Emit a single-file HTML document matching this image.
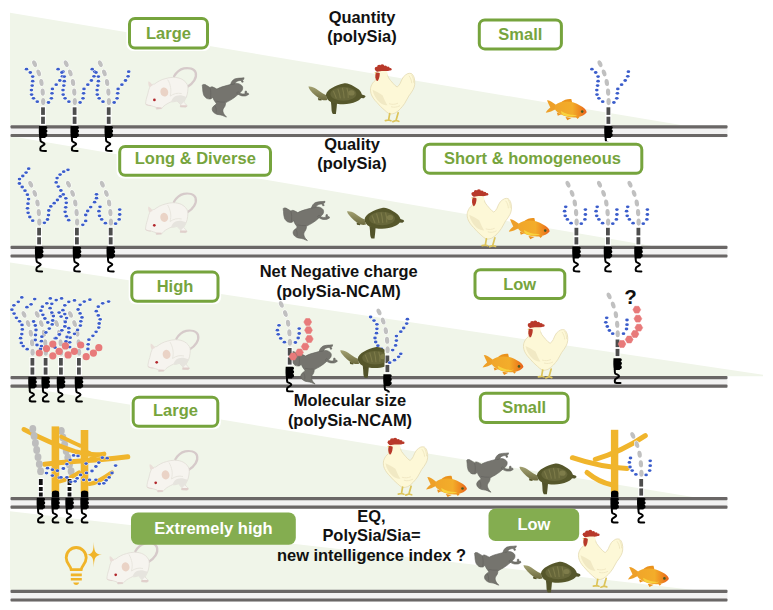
<!DOCTYPE html><html><head><meta charset="utf-8"><title>polySia</title><style>
html,body{margin:0;padding:0;background:#fff;width:773px;height:610px;overflow:hidden}
svg{display:block}
.b{font-family:"Liberation Sans",sans-serif;font-weight:bold;font-size:16.5px}
.t{font-family:"Liberation Sans",sans-serif;font-weight:bold;font-size:16.45px;fill:#111}
</style></head><body>
<svg width="773" height="610" viewBox="0 0 773 610"><defs>
<ellipse id="dot" cx="0" cy="0" rx="1.8" ry="1.4" fill="#3b5dcb" stroke="#fff" stroke-width="0.9" paint-order="stroke"/>
<g id="blobsq">
  <path d="M-4,0.8 L2.8,0.8 C4.8,1 4.8,3.6 3,4 C4.9,4.6 4.9,7.3 3,7.7 C4.9,8.3 4.8,11.2 2.8,11.6 L2.2,12.6 L-3.6,12.6 C-4.3,9 -4.3,4.5 -4,0.8 Z" fill="#000"/>
  <path d="M-2.7,12 C-2.8,14 -2.8,15 -2.3,15.9 C-1.2,16.9 1.6,17.6 1.6,18.7 C1.6,19.7 -1.6,20.6 -2.3,21.8 C-2.8,22.8 -2.8,24.2 -2.5,25 C-1,25.7 1,25.6 3,25.6" fill="none" stroke="#000" stroke-width="2" stroke-linejoin="round" stroke-linecap="round"/>
</g>
<polygon id="hex" points="3.90,0.00 1.95,3.38 -1.95,3.38 -3.90,0.00 -1.95,-3.38 1.95,-3.38" fill="#e87a7a" stroke="#e87a7a" stroke-width="0.6" stroke-linejoin="round"/>
<g id="stalk">
  <rect x="-2.9" y="-19" width="5.8" height="19" fill="#fff"/>
  <rect x="-1.9" y="-18" width="3.8" height="7.6" fill="#4d4d4d"/>
  <rect x="-1.9" y="-8.6" width="3.8" height="7.2" fill="#4d4d4d"/>
  <use href="#blobsq"/>
</g>
<g id="beads" fill="#c0c0c0" stroke="#fff" stroke-width="1" paint-order="stroke">
  <ellipse cx="-8.4" cy="-61.6" rx="2.15" ry="3.55" transform="rotate(-24 -8.4 -61.6)"/>
  <ellipse cx="-4.3" cy="-52.4" rx="2.15" ry="3.55" transform="rotate(-18 -4.3 -52.4)"/>
  <ellipse cx="-1.6" cy="-42.8" rx="2.15" ry="3.55" transform="rotate(-9 -1.6 -42.8)"/>
  <ellipse cx="-0.3" cy="-33.2" rx="2.15" ry="3.55" transform="rotate(-4 -0.3 -33.2)"/>
  <ellipse cx="0.2" cy="-23.7" rx="2.15" ry="3.55"/>
</g>
<clipPath id="clipT"><rect x="300" y="330" width="84.5" height="60"/></clipPath>
<g id="stalkb">
  <path d="M-3.6,-4 C-3.6,-6 -2,-6.6 0,-6.6 C2,-6.6 3.8,-6 3.8,-4 L3.8,0.5 L-3.6,0.5 Z" fill="#000"/>
  <use href="#blobsq"/>
</g>
<g id="stalkk">
  <rect x="-2.9" y="-19" width="5.8" height="19" fill="#fff"/>
  <rect x="-1.9" y="-18" width="3.8" height="6" fill="#111"/>
  <rect x="-1.9" y="-10" width="3.8" height="4" fill="#111"/>
  <rect x="-1.9" y="-4.5" width="3.8" height="4" fill="#111"/>
  <use href="#blobsq"/>
</g>
<g id="ncam"><use href="#stalk"/><use href="#beads"/></g>

<g id="mouse">
  <path d="M49.5,29.5 C55.5,26 59.5,20 58,15 C56.5,11 51,10 46.2,10.8 C42,11.8 38.5,15 36.4,18.7" fill="none" stroke="#d6caca" stroke-width="2.3" stroke-linecap="round"/>
  <path d="M7.9,46.2 C8,43.5 8.8,40 9.8,37.4 C10.5,34 11.2,31 12.5,28.5 C14,27 15.5,26.5 16.7,26.5 C20,24 23.5,22 27.5,21.1 C30,20.3 33,19.7 35.4,19.7 C39,19.7 42,20.5 44.2,21.6 C47.5,23.5 49.5,26 50.1,28.5 C50.6,31 50,36 48.7,39.3 C48,41.5 46.5,43 46,44.5 C47.5,46 49,47 49.5,48.5 L48,49.6 L42.5,49.3 L43.2,47.4 C42,46 41,44.5 39.3,43.3 C37,44.2 35,44.4 33.4,44.2 C32,45 30.5,45.5 29.5,46.2 C27,47.5 25,49.5 24,51 L18.7,51.5 L18.2,49.6 C16.5,49 15,48.6 13.8,48.2 C12,48.2 10,47.8 8.8,47.2 C8.3,47 8,46.6 7.9,46.2 Z" fill="#f6f4ef" stroke="#dedad2" stroke-width="0.7"/>
  <path d="M33.4,44.2 C35,39 40,35.5 48.7,39.3 C48,41.5 46.5,43 46,44.5 L43.2,47.4 C42,46 41,44.5 39.3,43.3 C37,44.2 35,44.4 33.4,44.2 Z" fill="#e6e4de"/>
  <path d="M30,22 C33,27 34,33 32.5,38.5 C36,36 40,35 44,36" fill="none" stroke="#e7e4dd" stroke-width="0.9"/>
  <path d="M11.5,29.3 C10.6,27.2 10.3,25.2 10.8,23.6 C12.5,24.5 14,26 15,28 Z" fill="#eaded8"/>
  <ellipse cx="26.6" cy="34.4" rx="3.9" ry="4.6" transform="rotate(-15 26.6 34.4)" fill="#ead3c6"/>
  <circle cx="16.7" cy="42.3" r="1.35" fill="#b2262c"/>
  <path d="M42.5,47.6 L48.8,47.6 L49.5,48.8 L48,49.7 L42.5,49.4 Z" fill="#e0cfcb"/>
  <path d="M18.5,49.4 L24,49.8 L23.8,51.2 L18.7,51.6 Z" fill="#e0cfcb"/>
  <path d="M8,46.5 C9.5,47.5 11.5,48 13.5,48" fill="none" stroke="#e2d4d0" stroke-width="0.8"/>
</g>

<g id="frog" fill="#75746e" stroke="#62615c" stroke-width="0.6">
  <path d="M5.2,13.6 C5.5,12.8 6.8,12.8 8,13.1 C8.5,13.3 8.9,13.5 9.2,13.8 C10.8,14.6 12,15.5 12.9,16.1 C13.8,15.3 15,15.2 15.8,15.6 C17.5,16.2 18.5,17 19.8,17.6 C22,16.3 25,15.2 27.5,14.6 C30,14 32.5,13.2 34.9,12.6 C36,12.2 37.2,11.8 38.6,11.9 C41,12 42.5,12.3 43.5,13.2 C45,14 45.6,15 45.6,16.5 C45.6,18.5 44.5,20 43.2,20.8 C42.2,22 41.3,22.6 40.6,23.2 C38.8,25 36.3,26.8 33.4,28.6 C31.3,29.8 29.6,30.6 28.5,31.3 C28.6,32.5 28.3,33.8 27.7,35 C26.8,36.5 25.8,37.5 25.8,39 C25.8,40.5 26.5,42 27.5,43.5 C28.3,44.3 29,45 29.4,45.6 C28,45.2 26.8,44.6 25.7,44.1 C24.5,43.6 23,43.3 22,43.2 C20.5,43 19.3,42.8 18.4,42.2 C17,41.5 16,40.5 15.6,39.5 C15,38.5 15,37.5 15.2,36.7 C15.6,35.5 16.5,34.5 17.4,34 C18.2,33.3 19,32.7 19.3,32.1 C18.7,31 18,30 17.4,29.4 C16.5,28 16,26.8 15.6,25.7 C14.8,26.8 14,27.4 12.9,27.5 C11.5,27.6 10,27.3 9.2,26.6 C7.8,25.5 6.8,24.3 6.4,23 C5.8,21 5.5,18.5 5.5,16.5 C5.4,15.3 5.1,14.3 5.2,13.6 Z"/>
  <path d="M33.5,13 C34,10.5 35.5,8.5 37.5,7.5 C39.5,6.8 42,6.6 44,6.6 L47,6.3 L46.5,8 L45.2,8.3 L46.2,10.5 L44.8,10.8 L44,8.9 C42.5,9 41,9.2 40,9.8 C38.8,10.5 38,11.5 37.5,12.5 Z"/>
  <path d="M39.5,21.5 C41,23 43,24 45,24.4 C46.5,24.6 48,24.5 49,24.3 L51.6,22.9 L51,21.5 L49.8,22 L49.3,19.6 L48,19.7 L47.8,22.4 C46.5,22.6 45,22.5 43.5,22 C42.5,21.5 41.6,20.8 41,20.2 Z"/>
  <path d="M13,16.5 C13.8,19.5 14,23 13.2,27 M19.3,29.8 C22,30.5 25,30.8 28,30.6 M17.5,34 C19,35.5 19.5,38 19,41" fill="none" stroke="#64635e" stroke-width="0.7"/>
</g>

<linearGradient id="tg" x1="0" y1="0" x2="0" y2="1"><stop offset="0" stop-color="#a3a172"/><stop offset="1" stop-color="#6c6a3e"/></linearGradient>
<g id="turtle">
  <path d="M14.5,22.5 L18.5,23.5 L18,25.2 L15,24.8 Z" fill="#55552a"/>
  <path d="M5,11.2 C6.5,11 8,11.2 9.5,11.8 C12,12.8 14,14.2 16.5,16 C18.5,17.5 20.5,18.5 22.5,19.5 L24,24.5 C22,25 20.5,25 19,24.5 C16.5,23.5 14,22 12,20.2 C10,18.5 8.2,16.5 6.8,14.8 C6,13.8 5.3,12.5 5,11.2 Z" fill="url(#tg)"/>
  <path d="M27.5,26 C28,29 28,32 28.2,35 C28.4,36.5 28.8,37.8 29.5,38.5 L32.5,38.5 C32.8,36.5 33,34 33.3,31.5 C33.5,29.5 33.6,28 33.6,27.5 Z" fill="#52532a"/>
  <path d="M57,18.5 L61.5,20 L62.2,21.2 L60.5,22.8 L57,22.5 Z" fill="#52532a"/>
  <path d="M22.5,19.5 C23,16.5 25.5,14 28.5,12.5 C32,10.5 36,8.8 40,8 C42,7.6 44,7.8 45.5,8.5 C49,9.8 52.5,11.8 55.5,14.2 C57.5,16 58.5,18 58.5,20.5 C58,23 56,24.8 53,26 C49,27.8 44.5,28.8 40,28.8 C35.5,28.8 31,28 27.5,26.5 C24.5,25 22.8,22.5 22.5,19.5 Z" fill="#56572b"/>
  <ellipse cx="40" cy="18.5" rx="13" ry="6.8" fill="#67673a"/>
  <path d="M30,15.5 C31,18 32,20.5 33,23 M34.5,13.5 C35.5,16.5 36.5,19.5 37,23 M39,12.5 C40,15.5 40.5,19 40.8,23 M43.5,12.5 C44.5,15.5 45,19 44.8,22.5" fill="none" stroke="#7d7b49" stroke-width="1.1"/>
  <ellipse cx="48" cy="17.5" rx="3.2" ry="2.6" fill="#7e7c4a"/>
</g>

<g id="chicken">
  <path d="M12.8,21.3 C11.5,22.3 10.4,23.3 9.6,24.5 C8.4,26.5 7.7,28.2 7.5,29.9 C7.3,32 7.7,34.2 8.5,36.2 C9.8,39 11.6,41.5 13.9,43.7 C16.2,46.5 18.6,49 21.3,51.2 C23,52.8 24.8,54.4 26.7,55.4 C28.5,55.4 30.3,55 32,54.4 C34,53.2 35.8,51.8 37.3,50.1 C38.9,48.5 40.3,46.6 41.6,44.8 C43.1,42.3 44.5,39.8 45.8,37.3 C47.3,35.3 48.9,33.2 50.1,30.9 C51,29.2 51.6,27.4 51.7,25.6 C51.9,23.4 51.7,21.2 51.2,19.2 C50.6,17.2 49.7,15.8 48.5,14.9 C47.3,14.5 46,14.5 44.8,14.9 C43.2,15.7 41.7,16.7 40.5,18.1 C39.2,20 38.1,22.2 37.3,24.5 C36.5,26.2 35.4,27.5 34.1,28.3 C32.5,27.3 31,26 29.9,24.5 C28.3,22.8 26.9,21 25.6,19.2 C25,17.6 24.4,16.2 23.5,14.9 C22,14.2 20.6,13.9 19.2,13.9 C16.8,14.2 14.5,15 12.8,16 Z" fill="#fdf8d7" stroke="#e4dab2" stroke-width="0.8"/>
  <path d="M9.5,31 C10.5,36 13,40.5 17,44 C19.5,45.8 22,46.6 24.5,46.6 C22.5,43.5 21,40 19.5,36.5 C16.5,34.5 13,32.5 9.5,31 Z" fill="#f1e9c4"/>
  <path d="M28,48 C31,49 34,48.5 37,47 M26,45 C29,46 32,45.8 35,44.5" fill="none" stroke="#efe7c2" stroke-width="0.9"/>
  <path d="M46,17 C47.5,19 48.5,21.5 48.7,24.5 M48.5,16 C50,18.5 50.7,21 50.6,24" fill="none" stroke="#eee5bd" stroke-width="0.8"/>
  <ellipse cx="19.5" cy="15.2" rx="5.2" ry="4.6" fill="#fdf8d7"/>
  <g fill="#b8392a"><circle cx="13.6" cy="10" r="1.9"/><circle cx="16.2" cy="8.2" r="2.1"/><circle cx="19.2" cy="7.6" r="2.1"/><circle cx="22.2" cy="8.6" r="1.9"/><circle cx="25" cy="9.6" r="1.7"/><circle cx="27.3" cy="10.5" r="1.3"/>
  <path d="M12,10 L14,8.5 L19,7.6 L24,8.6 L28,10.5 C27,12 25,12.5 22,12.3 C19,12.2 16,12.4 14.5,13 C13.5,13.3 12.5,12 12,10 Z"/>
  <path d="M13,13.8 C14.5,13.5 16,13.8 16.8,14.6 C16.8,17 16.3,19.5 15.3,21.2 C14.8,22 14.2,22.5 13.8,22.4 C13,21.3 12.5,20 12.4,18.5 C12.3,16.8 12.5,15 13,13.8 Z"/></g>
  <path d="M11.4,14 L13.2,13.4 L13,15.3 Z" fill="#e0bd50"/>
  
  <path d="M26.7,55 L25.6,61.3 L22.4,61.9 M25.6,61.3 L28,62 M35.2,54 L33,61.8 L29.9,62.9 M33,61.8 L35.8,62.6" fill="none" stroke="#dcc45a" stroke-width="1.7" stroke-linecap="round" stroke-linejoin="round"/>
</g>

<linearGradient id="fg" x1="0" y1="0" x2="1" y2="0">
  <stop offset="0" stop-color="#f0a52a"/><stop offset="0.55" stop-color="#f3ad2a"/><stop offset="0.78" stop-color="#ee8a20"/><stop offset="1" stop-color="#e8601c"/>
</linearGradient>
<g id="fish">
  <path d="M15.8,14.8 C12.5,12 9.5,10.2 7,10.2 C8,13 9.5,15.5 10.3,17.6 C8.3,19.2 6.6,21 5.8,22.7 C9.3,22.5 13,20.5 15.8,19.2 Z" fill="#eea028"/>
  <path d="M20.5,12.6 C24,9.6 28,8.6 31.3,9 L32.2,12.8 Z" fill="#ea921c"/>
  <path d="M25.5,27 L27.3,30.2 L31.5,28 Z M16.8,22.6 L17.8,25.8 L21.5,24.2 Z M36,27 L37.5,29 L39.5,27 Z" fill="#ec921c"/>
  <path d="M15,15.3 C18,12.5 22,11.6 27,11.6 C31.5,11.6 36,13 40,15.5 C44,17.6 46.5,20 46.7,22.2 C45,24.7 41.5,26.6 37.6,27.3 C32,28.1 26,27 21,24.5 C18,23 16,21 15,19.2 Z" fill="url(#fg)"/>
  <path d="M21,21 C26,24 31,25.5 37,25 C34,26.8 28,27 23.5,25.3 C21.8,24.3 21,22.7 21,21 Z" fill="#f8d23e"/>
  <circle cx="42.2" cy="21.6" r="1.3" fill="#4a5a22"/>
</g>

<g id="bulb" fill="none" stroke="#f0b429" stroke-width="2.8">
  <path d="M16.2,34.6 C15.8,31 11.2,28.5 11.2,22.8 C11.2,17 15.8,12.5 21.2,12.5 C26.6,12.5 31.2,17 31.2,22.8 C31.2,28.5 26.6,31 26.2,34.6 Z"/>
  <path d="M15.8,39.9 L26.8,39.9 M15.8,44.3 L26.8,44.3" stroke-width="2.6"/>
  <path d="M18.2,47.6 L24.2,47.6 C23.5,49.5 22.5,50 21.2,50 C19.9,50 18.9,49.5 18.2,47.6 Z" fill="#f0b429" stroke="none"/>
  <path d="M38.8,7 C39.1,15.5 39.6,19.4 46.9,19.8 C39.6,20.2 39.1,24 38.8,32.5 C38.5,24 38,20.2 31.5,19.8 C38,19.4 38.5,15.5 38.8,7 Z" fill="#f0b429" stroke="none"/>
</g>
</defs>
<polygon points="10.0,12.7 684.0,125.5 684.0,125.5 10.0,125.5" fill="#f0f5e9"/>
<polygon points="10.0,136.0 652.0,245.9 652.0,246.2 10.0,246.2" fill="#f0f5e9"/>
<polygon points="10.0,262.5 763.0,374.8 763.0,376.2 10.0,376.2" fill="#f0f5e9"/>
<polygon points="10.0,384.9 693.0,497.0 693.0,497.2 10.0,497.2" fill="#f0f5e9"/>
<polygon points="10.0,511.2 694.0,589.9 694.0,590.0 10.0,590.0" fill="#f0f5e9"/>
<rect x="10.5" y="125.3" width="717" height="12" fill="#f2f2f2"/><rect x="10.5" y="125.3" width="717" height="3.2" rx="1" fill="#6a6766"/><rect x="10.5" y="133.9" width="717" height="3.2" rx="1" fill="#6a6766"/>
<rect x="10.5" y="245.8" width="717" height="12" fill="#f2f2f2"/><rect x="10.5" y="245.8" width="717" height="3.2" rx="1" fill="#6a6766"/><rect x="10.5" y="254.4" width="717" height="3.2" rx="1" fill="#6a6766"/>
<rect x="10.5" y="376.0" width="717" height="12" fill="#f2f2f2"/><rect x="10.5" y="376.0" width="717" height="3.2" rx="1" fill="#6a6766"/><rect x="10.5" y="384.6" width="717" height="3.2" rx="1" fill="#6a6766"/>
<rect x="10.5" y="497.0" width="717" height="12" fill="#f2f2f2"/><rect x="10.5" y="497.0" width="717" height="3.2" rx="1" fill="#6a6766"/><rect x="10.5" y="505.6" width="717" height="3.2" rx="1" fill="#6a6766"/>
<rect x="10.5" y="589.8" width="717" height="12" fill="#f2f2f2"/><rect x="10.5" y="589.8" width="717" height="3.2" rx="1" fill="#6a6766"/><rect x="10.5" y="598.4" width="717" height="3.2" rx="1" fill="#6a6766"/>
<use href="#ncam" x="43.0" y="125.3"/>
<use href="#dot" x="26.5" y="69.2"/><use href="#dot" x="30.3" y="72.5"/><use href="#dot" x="32.7" y="76.6"/><use href="#dot" x="32.7" y="81.2"/><use href="#dot" x="32.2" y="85.6"/><use href="#dot" x="31.4" y="90.1"/><use href="#dot" x="31.6" y="94.6"/><use href="#dot" x="33.5" y="98.3"/><use href="#dot" x="37.3" y="101.7"/>
<use href="#dot" x="48.5" y="102.5"/><use href="#dot" x="51.4" y="98.3"/><use href="#dot" x="52.0" y="93.3"/><use href="#dot" x="52.4" y="88.9"/><use href="#dot" x="56.2" y="84.7"/><use href="#dot" x="59.8" y="80.5"/><use href="#dot" x="62.4" y="76.3"/><use href="#dot" x="63.0" y="71.7"/>
<use href="#ncam" x="74.6" y="125.3"/>
<use href="#dot" x="58.1" y="69.2"/><use href="#dot" x="61.9" y="72.5"/><use href="#dot" x="64.3" y="76.6"/><use href="#dot" x="64.3" y="81.2"/><use href="#dot" x="63.8" y="85.6"/><use href="#dot" x="63.0" y="90.1"/><use href="#dot" x="63.2" y="94.6"/><use href="#dot" x="65.1" y="98.3"/><use href="#dot" x="68.9" y="101.7"/>
<use href="#dot" x="80.1" y="102.5"/><use href="#dot" x="83.0" y="98.3"/><use href="#dot" x="83.6" y="93.3"/><use href="#dot" x="84.0" y="88.9"/><use href="#dot" x="87.8" y="84.7"/><use href="#dot" x="91.4" y="80.5"/><use href="#dot" x="94.0" y="76.3"/><use href="#dot" x="94.6" y="71.7"/>
<use href="#ncam" x="108.7" y="125.3"/>
<use href="#dot" x="92.2" y="69.2"/><use href="#dot" x="96.0" y="72.5"/><use href="#dot" x="98.4" y="76.6"/><use href="#dot" x="98.4" y="81.2"/><use href="#dot" x="97.9" y="85.6"/><use href="#dot" x="97.1" y="90.1"/><use href="#dot" x="97.3" y="94.6"/><use href="#dot" x="99.2" y="98.3"/><use href="#dot" x="103.0" y="101.7"/>
<use href="#dot" x="114.2" y="102.5"/><use href="#dot" x="117.1" y="98.3"/><use href="#dot" x="117.7" y="93.3"/><use href="#dot" x="118.1" y="88.9"/><use href="#dot" x="121.9" y="84.7"/><use href="#dot" x="125.5" y="80.5"/><use href="#dot" x="128.1" y="76.3"/><use href="#dot" x="128.7" y="71.7"/>
<use href="#ncam" x="608.4" y="125.3"/>
<use href="#dot" x="591.9" y="69.2"/><use href="#dot" x="595.7" y="72.5"/><use href="#dot" x="598.1" y="76.6"/><use href="#dot" x="598.1" y="81.2"/><use href="#dot" x="597.6" y="85.6"/><use href="#dot" x="596.8" y="90.1"/><use href="#dot" x="597.0" y="94.6"/><use href="#dot" x="598.9" y="98.3"/><use href="#dot" x="602.7" y="101.7"/>
<use href="#dot" x="613.9" y="102.5"/><use href="#dot" x="616.8" y="98.3"/><use href="#dot" x="617.4" y="93.3"/><use href="#dot" x="617.8" y="88.9"/><use href="#dot" x="621.6" y="84.7"/><use href="#dot" x="625.2" y="80.5"/><use href="#dot" x="627.8" y="76.3"/><use href="#dot" x="628.4" y="71.7"/>
<use href="#mouse" transform="translate(137.7,57.6) scale(1.000)"/>
<use href="#frog" transform="translate(197.1,71.5) scale(1.000)"/>
<use href="#turtle" transform="translate(303.4,75.4) scale(1.000)"/>
<use href="#chicken" transform="translate(363.0,58.7) scale(1.000)"/>
<use href="#fish" transform="translate(540.0,90.0) scale(1.000)"/>
<rect x="126.4" y="15.4" width="84.2" height="35.7" rx="7" fill="#fff"/><rect x="129.5" y="18.5" width="78.0" height="29.5" rx="5.5" fill="#fff" stroke="#76a43d" stroke-width="3"/><text x="168.5" y="38.7" fill="#76a43d" text-anchor="middle" class="b">Large</text>
<rect x="476.2" y="16.8" width="88.3" height="35.2" rx="7" fill="#fff"/><rect x="479.3" y="19.9" width="82.1" height="29.0" rx="5.5" fill="#fff" stroke="#76a43d" stroke-width="3"/><text x="520.3" y="39.5" fill="#76a43d" text-anchor="middle" class="b">Small</text>
<text x="362.0" y="22.6" text-anchor="middle" class="t">Quantity</text><text x="362.0" y="42.1" text-anchor="middle" class="t">(polySia)</text>
<use href="#ncam" x="39.1" y="245.8"/>
<use href="#dot" x="28.7" y="168.7"/><use href="#dot" x="26.1" y="172.6"/><use href="#dot" x="22.8" y="176.0"/><use href="#dot" x="19.5" y="179.1"/><use href="#dot" x="19.4" y="183.5"/><use href="#dot" x="22.2" y="187.0"/><use href="#dot" x="25.0" y="190.7"/><use href="#dot" x="27.4" y="194.7"/><use href="#dot" x="28.6" y="199.1"/><use href="#dot" x="28.0" y="203.7"/><use href="#dot" x="27.5" y="208.3"/><use href="#dot" x="28.1" y="212.8"/><use href="#dot" x="29.8" y="217.0"/><use href="#dot" x="32.7" y="220.7"/>
<use href="#dot" x="44.4" y="222.8"/><use href="#dot" x="47.5" y="219.5"/><use href="#dot" x="48.5" y="215.1"/><use href="#dot" x="48.8" y="210.5"/><use href="#dot" x="50.8" y="206.4"/><use href="#dot" x="54.2" y="203.2"/><use href="#dot" x="57.4" y="200.0"/><use href="#dot" x="60.3" y="196.4"/>
<use href="#ncam" x="76.9" y="245.8"/>
<use href="#dot" x="68.0" y="169.8"/><use href="#dot" x="63.7" y="171.7"/><use href="#dot" x="60.1" y="174.6"/><use href="#dot" x="57.1" y="178.1"/><use href="#dot" x="56.2" y="182.4"/><use href="#dot" x="58.3" y="186.6"/><use href="#dot" x="60.9" y="190.5"/><use href="#dot" x="63.3" y="194.4"/><use href="#dot" x="65.8" y="198.3"/><use href="#dot" x="66.3" y="202.8"/><use href="#dot" x="65.7" y="207.3"/><use href="#dot" x="65.1" y="211.8"/><use href="#dot" x="66.3" y="216.2"/><use href="#dot" x="68.7" y="220.2"/>
<use href="#dot" x="82.8" y="224.8"/><use href="#dot" x="85.7" y="220.9"/><use href="#dot" x="85.7" y="215.0"/><use href="#dot" x="87.7" y="211.0"/><use href="#dot" x="90.7" y="207.1"/><use href="#dot" x="94.6" y="202.2"/><use href="#dot" x="96.5" y="198.2"/><use href="#dot" x="96.5" y="194.3"/>
<use href="#ncam" x="110.7" y="245.8"/>
<use href="#dot" x="100.0" y="206.8"/><use href="#dot" x="98.9" y="211.2"/><use href="#dot" x="99.5" y="215.8"/><use href="#dot" x="101.7" y="219.4"/><use href="#dot" x="105.4" y="223.2"/>
<use href="#dot" x="115.6" y="223.7"/><use href="#dot" x="119.2" y="219.4"/><use href="#dot" x="119.7" y="214.5"/><use href="#dot" x="119.7" y="209.6"/>
<use href="#ncam" x="576.4" y="245.8"/>
<use href="#dot" x="565.7" y="206.8"/><use href="#dot" x="564.6" y="211.2"/><use href="#dot" x="565.2" y="215.8"/><use href="#dot" x="567.4" y="219.4"/><use href="#dot" x="571.1" y="223.2"/>
<use href="#dot" x="581.3" y="223.7"/><use href="#dot" x="584.9" y="219.4"/><use href="#dot" x="585.4" y="214.5"/><use href="#dot" x="585.4" y="209.6"/>
<use href="#ncam" x="607.9" y="245.8"/>
<use href="#dot" x="597.2" y="206.8"/><use href="#dot" x="596.1" y="211.2"/><use href="#dot" x="596.7" y="215.8"/><use href="#dot" x="598.9" y="219.4"/><use href="#dot" x="602.6" y="223.2"/>
<use href="#dot" x="612.8" y="223.7"/><use href="#dot" x="616.4" y="219.4"/><use href="#dot" x="616.9" y="214.5"/><use href="#dot" x="616.9" y="209.6"/>
<use href="#ncam" x="638.4" y="245.8"/>
<use href="#dot" x="627.7" y="206.8"/><use href="#dot" x="626.6" y="211.2"/><use href="#dot" x="627.2" y="215.8"/><use href="#dot" x="629.4" y="219.4"/><use href="#dot" x="633.1" y="223.2"/>
<use href="#dot" x="643.3" y="223.7"/><use href="#dot" x="646.9" y="219.4"/><use href="#dot" x="647.4" y="214.5"/><use href="#dot" x="647.4" y="209.6"/>
<use href="#mouse" transform="translate(137.6,183.0) scale(1.000)"/>
<use href="#frog" transform="translate(278.0,195.0) scale(1.000)"/>
<use href="#turtle" transform="translate(342.0,200.0) scale(1.000)"/>
<use href="#chicken" transform="translate(459.7,183.8) scale(1.000)"/>
<use href="#fish" transform="translate(503.0,209.0) scale(1.000)"/>
<rect x="116.6" y="143.4" width="157.0" height="35.0" rx="7" fill="#fff"/><rect x="119.7" y="146.5" width="150.8" height="28.8" rx="5.5" fill="#fff" stroke="#76a43d" stroke-width="3"/><text x="195.3" y="164.4" fill="#76a43d" text-anchor="middle" class="b">Long &amp; Diverse</text>
<rect x="421.2" y="141.2" width="223.7" height="35.2" rx="7" fill="#fff"/><rect x="424.3" y="144.3" width="217.5" height="29.0" rx="5.5" fill="#fff" stroke="#76a43d" stroke-width="3"/><text x="532.5" y="163.9" fill="#76a43d" text-anchor="middle" class="b">Short &amp; homogeneous</text>
<text x="352.0" y="149.9" text-anchor="middle" class="t">Quality</text><text x="352.0" y="169.4" text-anchor="middle" class="t">(polySia)</text>
<use href="#ncam" x="32.4" y="376.0"/>
<use href="#ncam" x="45.6" y="376.0"/>
<use href="#ncam" x="60.9" y="376.0"/>
<use href="#ncam" x="78.9" y="376.0"/>
<use href="#dot" x="21.8" y="297.4"/><use href="#dot" x="18.3" y="301.8"/><use href="#dot" x="13.9" y="305.3"/><use href="#dot" x="11.9" y="309.7"/><use href="#dot" x="14.1" y="313.6"/><use href="#dot" x="16.4" y="317.8"/><use href="#dot" x="19.6" y="321.3"/><use href="#dot" x="22.0" y="324.9"/><use href="#dot" x="22.3" y="329.4"/><use href="#dot" x="21.8" y="334.1"/><use href="#dot" x="20.6" y="338.2"/><use href="#dot" x="21.3" y="342.9"/><use href="#dot" x="23.2" y="346.1"/><use href="#dot" x="27.2" y="349.2"/>
<use href="#dot" x="34.7" y="299.1"/><use href="#dot" x="31.1" y="304.3"/><use href="#dot" x="26.9" y="307.2"/>
<use href="#dot" x="33.6" y="321.5"/><use href="#dot" x="35.3" y="325.5"/><use href="#dot" x="36.0" y="330.0"/><use href="#dot" x="35.5" y="335.0"/><use href="#dot" x="35.3" y="340.0"/><use href="#dot" x="37.0" y="345.0"/><use href="#dot" x="40.5" y="349.0"/>
<use href="#dot" x="50.3" y="298.4"/><use href="#dot" x="46.8" y="303.3"/><use href="#dot" x="42.4" y="306.7"/><use href="#dot" x="40.9" y="310.7"/><use href="#dot" x="42.9" y="314.8"/><use href="#dot" x="44.9" y="318.5"/><use href="#dot" x="47.8" y="322.5"/><use href="#dot" x="49.3" y="328.6"/><use href="#dot" x="45.9" y="332.5"/><use href="#dot" x="41.9" y="336.7"/><use href="#dot" x="41.4" y="341.2"/><use href="#dot" x="41.4" y="346.1"/>
<use href="#dot" x="61.6" y="298.4"/><use href="#dot" x="56.2" y="300.1"/><use href="#dot" x="51.8" y="303.8"/><use href="#dot" x="50.1" y="308.2"/><use href="#dot" x="51.8" y="312.6"/><use href="#dot" x="53.4" y="316.1"/><use href="#dot" x="52.7" y="320.5"/><use href="#dot" x="52.2" y="324.4"/>
<use href="#dot" x="59.1" y="312.6"/><use href="#dot" x="61.1" y="316.6"/><use href="#dot" x="65.0" y="321.5"/><use href="#dot" x="65.0" y="326.4"/><use href="#dot" x="61.6" y="330.3"/><use href="#dot" x="59.1" y="334.3"/><use href="#dot" x="55.2" y="338.2"/><use href="#dot" x="54.0" y="343.0"/><use href="#dot" x="55.0" y="347.5"/>
<use href="#dot" x="74.5" y="300.4"/><use href="#dot" x="68.8" y="301.8"/><use href="#dot" x="64.8" y="305.3"/><use href="#dot" x="62.9" y="310.2"/><use href="#dot" x="64.8" y="314.1"/><use href="#dot" x="66.6" y="318.1"/><use href="#dot" x="65.3" y="322.0"/><use href="#dot" x="64.8" y="326.4"/><use href="#dot" x="61.9" y="330.3"/><use href="#dot" x="59.4" y="334.5"/><use href="#dot" x="56.0" y="338.2"/>
<use href="#dot" x="89.9" y="299.7"/><use href="#dot" x="84.3" y="301.6"/><use href="#dot" x="80.1" y="304.8"/><use href="#dot" x="78.1" y="309.5"/><use href="#dot" x="80.1" y="313.4"/><use href="#dot" x="82.0" y="317.4"/><use href="#dot" x="80.8" y="321.3"/><use href="#dot" x="80.4" y="325.6"/><use href="#dot" x="77.6" y="329.9"/><use href="#dot" x="74.5" y="333.8"/><use href="#dot" x="70.2" y="337.7"/><use href="#dot" x="69.7" y="342.3"/><use href="#dot" x="69.7" y="347.1"/>
<use href="#dot" x="108.6" y="301.6"/><use href="#dot" x="102.7" y="303.3"/><use href="#dot" x="98.3" y="306.7"/><use href="#dot" x="96.3" y="311.2"/><use href="#dot" x="98.3" y="315.4"/><use href="#dot" x="100.2" y="319.3"/><use href="#dot" x="99.2" y="323.5"/><use href="#dot" x="98.8" y="327.6"/><use href="#dot" x="96.1" y="331.8"/><use href="#dot" x="92.9" y="335.8"/><use href="#dot" x="88.9" y="339.7"/><use href="#dot" x="88.2" y="344.3"/><use href="#dot" x="87.9" y="349.0"/>
<use href="#dot" x="68.8" y="328.2"/><use href="#dot" x="68.8" y="332.3"/><use href="#dot" x="67.0" y="337.0"/><use href="#dot" x="66.0" y="341.5"/>
<circle cx="39.3" cy="353.0" r="3.6" fill="#e87a7a"/>
<circle cx="46.5" cy="348.6" r="3.6" fill="#e87a7a"/>
<circle cx="52.8" cy="344.1" r="3.6" fill="#e87a7a"/>
<circle cx="52.8" cy="355.8" r="3.6" fill="#e87a7a"/>
<circle cx="59.1" cy="351.3" r="3.6" fill="#e87a7a"/>
<circle cx="65.4" cy="345.9" r="3.6" fill="#e87a7a"/>
<circle cx="68.1" cy="354.9" r="3.6" fill="#e87a7a"/>
<circle cx="74.4" cy="351.3" r="3.6" fill="#e87a7a"/>
<circle cx="80.7" cy="345.0" r="3.6" fill="#e87a7a"/>
<circle cx="86.2" cy="356.7" r="3.6" fill="#e87a7a"/>
<circle cx="93.4" cy="353.1" r="3.6" fill="#e87a7a"/>
<circle cx="98.8" cy="347.7" r="3.6" fill="#e87a7a"/>
<use href="#frog" transform="translate(285.7,338.5) scale(1.000)"/>
<use href="#ncam" x="289.7" y="366.0"/>
<use href="#dot" x="279.0" y="325.3"/><use href="#dot" x="277.4" y="330.2"/><use href="#dot" x="278.2" y="334.3"/><use href="#dot" x="280.7" y="338.4"/><use href="#dot" x="284.4" y="342.2"/>
<use href="#dot" x="299.2" y="328.6"/><use href="#dot" x="299.2" y="333.5"/><use href="#dot" x="298.2" y="338.0"/><use href="#dot" x="295.4" y="342.5"/>
<use href="#hex" x="307.7" y="322.0"/>
<use href="#hex" x="308.5" y="330.2"/>
<use href="#hex" x="309.3" y="339.0"/>
<use href="#hex" x="305.2" y="346.6"/>
<use href="#hex" x="299.5" y="352.4"/>
<use href="#hex" x="293.0" y="356.5"/>
<use href="#ncam" x="387.4" y="373.5"/>
<use href="#dot" x="370.6" y="317.0"/><use href="#dot" x="374.0" y="320.6"/><use href="#dot" x="376.9" y="324.3"/><use href="#dot" x="376.9" y="328.8"/><use href="#dot" x="376.5" y="333.2"/><use href="#dot" x="375.0" y="338.0"/><use href="#dot" x="375.7" y="342.0"/><use href="#dot" x="377.9" y="345.7"/><use href="#dot" x="381.6" y="349.0"/>
<use href="#dot" x="407.4" y="319.2"/><use href="#dot" x="406.7" y="323.6"/><use href="#dot" x="403.7" y="328.0"/><use href="#dot" x="400.8" y="331.7"/><use href="#dot" x="396.4" y="336.1"/><use href="#dot" x="396.4" y="340.6"/><use href="#dot" x="395.6" y="345.4"/><use href="#dot" x="392.7" y="350.1"/>
<use href="#dot" x="400.8" y="353.8"/><use href="#dot" x="398.6" y="356.8"/><use href="#dot" x="394.5" y="360.2"/><use href="#dot" x="389.7" y="362.7"/>
<g clip-path="url(#clipT)"><use href="#turtle" transform="translate(335.2,339.2) scale(1.000)"/></g>
<use href="#ncam" x="617.5" y="357.5"/>
<use href="#dot" x="606.7" y="317.8"/><use href="#dot" x="605.8" y="322.3"/><use href="#dot" x="607.3" y="326.5"/><use href="#dot" x="609.4" y="330.5"/><use href="#dot" x="612.7" y="333.7"/>
<use href="#dot" x="627.0" y="320.0"/><use href="#dot" x="627.0" y="324.7"/><use href="#dot" x="626.5" y="329.0"/><use href="#dot" x="623.5" y="333.7"/>
<use href="#hex" x="636.8" y="309.7"/>
<use href="#hex" x="637.9" y="318.7"/>
<use href="#hex" x="638.8" y="327.7"/>
<use href="#hex" x="635.0" y="334.0"/>
<use href="#hex" x="629.2" y="339.5"/>
<use href="#hex" x="622.0" y="344.0"/>
<text x="630.6" y="303.6" text-anchor="middle" class="t" style="font-size:20.5px">?</text>
<use href="#mouse" transform="translate(140.0,320.0) scale(1.000)"/>
<use href="#fish" transform="translate(476.8,344.8) scale(1.000)"/>
<use href="#chicken" transform="translate(516.0,315.0) scale(1.000)"/>
<rect x="128.7" y="269.0" width="92.4" height="35.3" rx="7" fill="#fff"/><rect x="131.8" y="272.1" width="86.2" height="29.1" rx="5.5" fill="#fff" stroke="#76a43d" stroke-width="3"/><text x="175.0" y="291.7" fill="#76a43d" text-anchor="middle" class="b">High</text>
<rect x="471.9" y="266.7" width="96.0" height="35.0" rx="7" fill="#fff"/><rect x="475.0" y="269.8" width="89.8" height="28.8" rx="5.5" fill="#fff" stroke="#76a43d" stroke-width="3"/><text x="519.7" y="289.5" fill="#76a43d" text-anchor="middle" class="b">Low</text>
<text x="338.7" y="277.0" text-anchor="middle" class="t">Net Negative charge</text><text x="338.7" y="296.5" text-anchor="middle" class="t">(polySia-NCAM)</text>
<ellipse cx="61.3" cy="430.8" rx="3.45" ry="3.9" fill="#bdbdbd"/>
<ellipse cx="62.9" cy="437.5" rx="3.45" ry="3.9" fill="#bdbdbd"/>
<ellipse cx="64.6" cy="444.3" rx="3.45" ry="3.9" fill="#bdbdbd"/>
<ellipse cx="66.2" cy="451.0" rx="3.45" ry="3.9" fill="#bdbdbd"/>
<ellipse cx="67.8" cy="457.7" rx="3.45" ry="3.9" fill="#bdbdbd"/>
<ellipse cx="69.5" cy="464.5" rx="3.45" ry="3.9" fill="#bdbdbd"/>
<ellipse cx="71.1" cy="471.2" rx="3.45" ry="3.9" fill="#bdbdbd"/>
<g fill="none" stroke="#f0b52c" stroke-linecap="round">
<path d="M55.4,426.4 L55.4,492" stroke-width="7.6" stroke-linecap="butt"/><path d="M84.5,430 L84.5,493" stroke-width="7.6" stroke-linecap="butt"/>
<path d="M23.9,429.4 C40,438 58,446 75,451.5 C88,455 98,455 104,454" stroke-width="4.8"/>
<path d="M61.3,436.7 C68,440 74,443 80,445.6" stroke-width="4"/>
<path d="M44.6,464.3 C56,463 66,462 74,461.5 C92,460.5 110,459 127.8,456.8" stroke-width="5"/>
<path d="M60,481.3 C68,479 74,476 79,472.5" stroke-width="4.2"/>
<path d="M89.5,484 C97,483 104,478 112,472.4" stroke-width="4.2"/>
<path d="M88,452 L96,456 L88,460" stroke-width="3.4"/>
</g>
<ellipse cx="32.8" cy="428.9" rx="3.45" ry="3.9" fill="#bdbdbd"/>
<ellipse cx="34.1" cy="435.9" rx="3.45" ry="3.9" fill="#bdbdbd"/>
<ellipse cx="35.4" cy="443.0" rx="3.45" ry="3.9" fill="#bdbdbd"/>
<ellipse cx="36.7" cy="450.0" rx="3.45" ry="3.9" fill="#bdbdbd"/>
<ellipse cx="38.0" cy="457.1" rx="3.45" ry="3.9" fill="#bdbdbd"/>
<ellipse cx="39.3" cy="464.1" rx="3.45" ry="3.9" fill="#bdbdbd"/>
<ellipse cx="40.6" cy="471.2" rx="3.45" ry="3.9" fill="#bdbdbd"/>
<use href="#stalkk" x="40.8" y="497.0"/>
<use href="#stalkk" x="69.5" y="497.0"/>
<use href="#stalkb" x="55.4" y="497.0"/>
<use href="#stalkb" x="84.5" y="497.0"/>
<use href="#dot" x="47.5" y="468.2"/><use href="#dot" x="52.4" y="469.7"/><use href="#dot" x="57.4" y="470.7"/><use href="#dot" x="63.3" y="468.7"/><use href="#dot" x="67.2" y="464.3"/><use href="#dot" x="70.1" y="459.9"/><use href="#dot" x="73.6" y="455.4"/><use href="#dot" x="78.0" y="455.9"/>
<use href="#dot" x="46.5" y="473.1"/><use href="#dot" x="52.4" y="475.6"/><use href="#dot" x="59.3" y="477.6"/><use href="#dot" x="61.0" y="477.4"/><use href="#dot" x="66.9" y="477.4"/><use href="#dot" x="70.8" y="481.8"/><use href="#dot" x="75.2" y="481.3"/><use href="#dot" x="77.2" y="478.3"/><use href="#dot" x="80.6" y="474.9"/><use href="#dot" x="86.5" y="472.9"/><use href="#dot" x="92.0" y="471.0"/><use href="#dot" x="95.9" y="466.5"/><use href="#dot" x="98.8" y="462.6"/><use href="#dot" x="102.3" y="457.7"/><use href="#dot" x="107.2" y="458.2"/>
<use href="#dot" x="83.6" y="479.8"/><use href="#dot" x="89.5" y="479.8"/><use href="#dot" x="95.9" y="479.8"/><use href="#dot" x="99.3" y="483.8"/><use href="#dot" x="103.8" y="483.3"/><use href="#dot" x="106.2" y="480.3"/><use href="#dot" x="109.2" y="477.4"/><use href="#dot" x="112.0" y="473.0"/>
<use href="#dot" x="63.4" y="468.5"/><use href="#dot" x="66.9" y="464.1"/><use href="#dot" x="86.1" y="463.6"/><use href="#dot" x="115.6" y="465.6"/>
<g fill="none" stroke="#f0b52c" stroke-width="5" stroke-linecap="round">
<path d="M614.6,429.8 L614.6,494" stroke-width="7.4" stroke-linecap="butt"/>
<path d="M572.4,457.7 C585,462 605,467.5 627.3,468.4"/>
<path d="M595.3,459.3 C610,455 630,446 645.3,435.6"/>
<path d="M587,472.5 C595,479 603,483 611.7,484.8"/>
</g>
<use href="#stalkb" x="614.6" y="497.0"/>
<use href="#ncam" x="641.2" y="497.0"/>
<use href="#dot" x="630.5" y="458.0"/><use href="#dot" x="629.4" y="462.4"/><use href="#dot" x="630.0" y="467.0"/><use href="#dot" x="632.2" y="470.6"/><use href="#dot" x="635.9" y="474.4"/>
<use href="#dot" x="646.1" y="474.9"/><use href="#dot" x="649.7" y="470.6"/><use href="#dot" x="650.2" y="465.7"/><use href="#dot" x="650.2" y="460.8"/>
<use href="#mouse" transform="translate(139.0,440.5) scale(1.000)"/>
<use href="#chicken" transform="translate(375.9,432.2) scale(1.000)"/>
<use href="#fish" transform="translate(420.3,466.9) scale(1.000)"/>
<use href="#frog" transform="translate(461.6,446.6) scale(1.000)"/>
<use href="#turtle" transform="translate(514.4,455.7) scale(1.000)"/>
<rect x="130.1" y="394.1" width="90.8" height="35.2" rx="7" fill="#fff"/><rect x="133.2" y="397.2" width="84.6" height="29.0" rx="5.5" fill="#fff" stroke="#76a43d" stroke-width="3"/><text x="175.5" y="416.3" fill="#76a43d" text-anchor="middle" class="b">Large</text>
<rect x="477.2" y="390.2" width="94.0" height="35.5" rx="7" fill="#fff"/><rect x="480.3" y="393.3" width="87.8" height="29.3" rx="5.5" fill="#fff" stroke="#76a43d" stroke-width="3"/><text x="524.2" y="412.7" fill="#76a43d" text-anchor="middle" class="b">Small</text>
<rect x="287" y="392.5" width="127" height="36" fill="#fff"/>
<text x="350.0" y="406.0" text-anchor="middle" class="t">Molecular size</text><text x="350.0" y="425.5" text-anchor="middle" class="t">(polySia-NCAM)</text>
<use href="#bulb" transform="translate(55.0,535.0) scale(1.000)"/>
<use href="#mouse" transform="translate(99.0,532.5) scale(1.000)"/>
<use href="#frog" transform="translate(469.4,539.6) scale(1.000)"/>
<use href="#turtle" transform="translate(518.4,554.0) scale(1.000)"/>
<use href="#chicken" transform="translate(571.0,524.3) scale(1.000)"/>
<use href="#fish" transform="translate(622.2,556.8) scale(1.000)"/>
<rect x="131.0" y="512.4" width="164.8" height="32.4" rx="7" fill="#84ad50"/><text x="213.5" y="534.0" fill="#fff" text-anchor="middle" class="b">Extremely high</text>
<rect x="488.5" y="508.5" width="90.7" height="32.5" rx="7" fill="#84ad50"/><text x="533.9" y="530.2" fill="#fff" text-anchor="middle" class="b">Low</text>
<text x="371.5" y="522.0" text-anchor="middle" class="t">EQ,</text>
<text x="371.5" y="540.9" text-anchor="middle" class="t">PolySia/Sia=</text>
<text x="371.5" y="561.2" text-anchor="middle" class="t">new intelligence index ?</text>
</svg></body></html>
